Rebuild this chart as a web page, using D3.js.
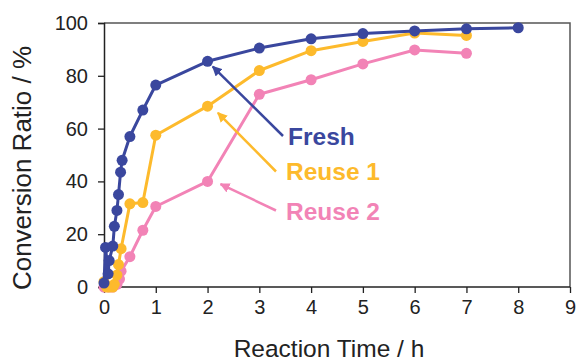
<!DOCTYPE html>
<html><head><meta charset="utf-8">
<script src="https://cdn.jsdelivr.net/npm/d3@7"></script>
<style>body{margin:0;background:#fff}svg{display:block}</style>
</head><body>
<svg id="c" width="579" height="361"></svg>
<script>
const xTicks = [0,1,2,3,4,5,6,7,8,9];
const yTicks = [0,20,40,60,80,100];
const freshT = [0,0.03,0.08,0.1,0.17,0.2,0.25,0.28,0.32,0.35,0.5,0.75,1,2,3,4,5,6,7,8];
const freshY = [1.5,15,5,10,15.5,23,29,35,43.5,48,57,67,76.5,85.5,90.5,94,96,97,97.8,98.2];
const reuse1T = [0,0.05,0.1,0.17,0.2,0.25,0.28,0.33,0.5,0.75,1,2,3,4,5,6,7];
const reuse1Y = [2,0,0,0,1,4.5,8.5,14.5,31.5,32,57.5,68.5,82,89.5,93,96.2,95.3];
const reuse2T = [0,0.1,0.17,0.25,0.3,0.33,0.5,0.75,1,2,3,4,5,6,7];
const reuse2Y = [0,0,0,1,3,6,11.5,21.5,30.5,40,73,78.5,84.5,89.8,88.5];
const seriesNames = ["Fresh","Reuse 1","Reuse 2"];
const colors = ["#3a479e","#fdba2c","#f283b6"];
// annotation: [arrow tip (t, value)], text anchor
const annTip = [[2.1,83.5],[2.2,66],[2.25,39]];

const svg = d3.select("#c");
const L=104, R=570, T=23, B=287;
const x = d3.scaleLinear().domain([0,9]).range([L,R]);
const y = d3.scaleLinear().domain([0,100]).range([B,T]);

// frame top/right
svg.append("path").attr("d",`M${L},${T}H${R}V${B}`).attr("fill","none").attr("stroke","#555").attr("stroke-width",1.5);

const xa = svg.append("g").attr("transform",`translate(0,${B})`)
  .call(d3.axisBottom(x).tickValues(xTicks).tickSize(6).tickPadding(7).tickFormat(d3.format("d")));
const ya = svg.append("g").attr("transform",`translate(${L},0)`)
  .call(d3.axisLeft(y).tickValues(yTicks).tickSize(6).tickPadding(10).tickFormat(d3.format("d")));
[xa,ya].forEach(a=>{
  a.selectAll("path").attr("stroke","#222").attr("stroke-width",1.5);
  a.selectAll("line").attr("stroke","#222").attr("stroke-width",1.3);
  a.selectAll("text").attr("font-family","Liberation Sans, Arial, sans-serif").attr("font-size",20).attr("fill","#222");
});
xa.select(".domain").attr("d",`M${L},0H${R}`);

svg.append("text").attr("x",(L+R)/2-8).attr("y",357).attr("text-anchor","middle")
  .attr("font-family","Liberation Sans, Arial, sans-serif").attr("font-size",24.5).attr("fill","#222").text("Reaction Time / h");
svg.append("text").attr("transform","translate(31,168) rotate(-90)").attr("text-anchor","middle")
  .attr("font-family","Liberation Sans, Arial, sans-serif").attr("font-size",26).attr("fill","#222").text("Conversion Ratio / %");

const data = [
  freshT.map((t,i)=>[t,freshY[i]]),
  reuse1T.map((t,i)=>[t,reuse1Y[i]]),
  reuse2T.map((t,i)=>[t,reuse2Y[i]])
];
const line = d3.line().x(d=>x(d[0])).y(d=>y(d[1]));
// draw in order pink, orange, blue (blue on top)
[2,1,0].forEach(k=>{
  const g = svg.append("g");
  g.append("path").attr("d",line(data[k])).attr("fill","none").attr("stroke",colors[k]).attr("stroke-width",3).attr("stroke-linejoin","round");
  g.selectAll("circle").data(data[k]).join("circle").attr("cx",d=>x(d[0])).attr("cy",d=>y(d[1])).attr("r",5.5).attr("fill",colors[k]);
});

// annotations
const defs = svg.append("defs");
colors.forEach((c,i)=>{
  defs.append("marker").attr("id","ah"+i).attr("viewBox","0 0 10 10").attr("refX",9).attr("refY",5)
    .attr("markerWidth",4).attr("markerHeight",4).attr("orient","auto-start-reverse").attr("markerUnits","strokeWidth")
    .append("path").attr("d","M0,0L10,5L0,10z").attr("fill",c);
});
const textPos = [[288,145],[286,180],[286,220]];
const tails = [[283,136],[276,171.5],[276,210.5]];
seriesNames.forEach((n,i)=>{
  const tip = [x(annTip[i][0]), y(annTip[i][1])];
  svg.append("line").attr("x1",tails[i][0]).attr("y1",tails[i][1]).attr("x2",tip[0]).attr("y2",tip[1])
    .attr("stroke",colors[i]).attr("stroke-width",2.5).attr("marker-end",`url(#ah${i})`);
  svg.append("text").attr("x",textPos[i][0]).attr("y",textPos[i][1]).attr("font-family","Liberation Sans, Arial, sans-serif")
    .attr("font-weight","bold").attr("font-size",24.5).attr("fill",colors[i]).text(n);
});
</script>
</body></html>
